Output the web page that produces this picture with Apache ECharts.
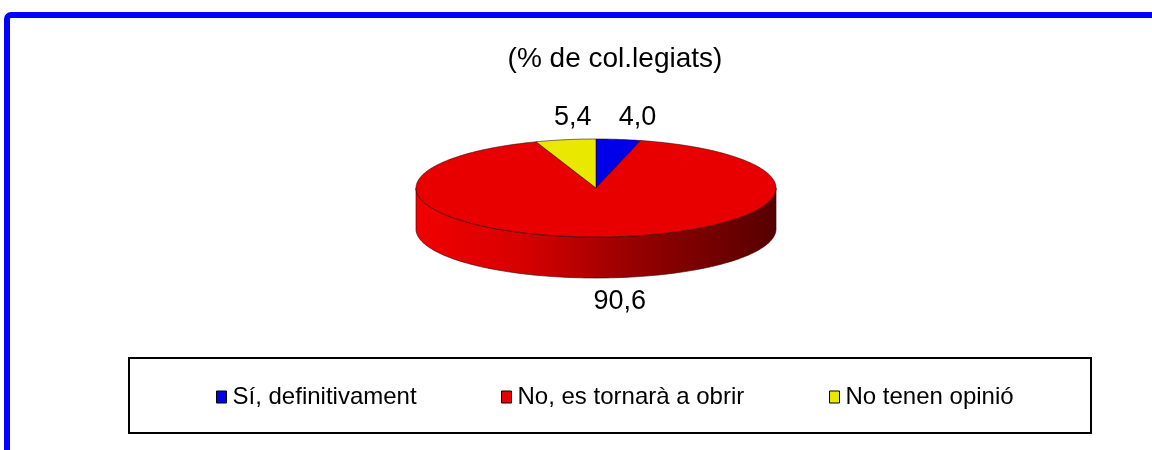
<!DOCTYPE html>
<html>
<head>
<meta charset="utf-8">
<script src="https://cdn.jsdelivr.net/npm/echarts@6/dist/echarts.min.js"></script>
<style>
  html, body { margin: 0; padding: 0; background: #fff; }
  #main { width: 1152px; height: 450px; }
</style>
</head>
<body>
<div id="main"></div>
<script>
// dades del gràfic
const categories = ['Sí, definitivament', 'No, es tornarà a obrir', 'No tenen opinió'];
const values = [4.0, 90.6, 5.4];
const valueLabels = ['4,0', '90,6', '5,4'];
const titleText = '(% de col.legiats)';

// estil
const colors = ['#0000e8', '#e80000', '#e8e800'];
const FONT = '"Liberation Sans", Arial, sans-serif';
const PIE = { cx: 596, cy: 188, rx: 180, ry: 49, depth: 41 };
const legendLeft = [216, 501, 829];

const chart = echarts.init(document.getElementById('main'), null, { renderer: 'canvas' });

const total = values.reduce((a, b) => a + b, 0);

function angleAt(v) {
  return -Math.PI / 2 + (v / total) * Math.PI * 2;
}

function ellPoint(a, dy) {
  return [PIE.cx + PIE.rx * Math.cos(a), PIE.cy + PIE.ry * Math.sin(a) + (dy || 0)];
}

function arcPoints(a0, a1, dy) {
  const pts = [];
  const steps = Math.max(4, Math.ceil(Math.abs(a1 - a0) / 0.02));
  for (let k = 0; k <= steps; k++) {
    pts.push(ellPoint(a0 + (a1 - a0) * k / steps, dy));
  }
  return pts;
}

// sector 3D aplanat: cara superior, costat frontal i etiqueta
function renderSlice(params, api) {
  const i = params.seriesIndex;
  let before = 0;
  for (let k = 0; k < i; k++) before += values[k];
  const a0 = angleAt(before);
  const a1 = angleAt(before + api.value(0));
  const children = [];

  // costat visible (part frontal, entre 0 i PI)
  const s = Math.max(a0, 0);
  const e = Math.min(a1, Math.PI);
  if (e > s) {
    const top = arcPoints(s, e, 0);
    const bottom = arcPoints(e, s, PIE.depth);
    children.push({
      type: 'polygon',
      z2: 1,
      shape: { points: top.concat(bottom) },
      style: {
        fill: new echarts.graphic.LinearGradient(PIE.cx - PIE.rx, 0, PIE.cx + PIE.rx, 0, [
          { offset: 0, color: '#f20000' },
          { offset: 0.3, color: '#d60000' },
          { offset: 0.6, color: '#980000' },
          { offset: 1, color: '#560000' }
        ], true),
        stroke: 'rgba(60,0,0,0.8)',
        lineWidth: 0.8
      }
    });
  }

  // cara superior
  children.push({
    type: 'polygon',
    z2: 5,
    shape: { points: [[PIE.cx, PIE.cy]].concat(arcPoints(a0, a1, 0)) },
    style: {
      fill: colors[i],
      stroke: 'rgba(40,0,0,0.7)',
      lineWidth: 0.8
    }
  });

  // etiqueta de valor
  const m = (a0 + a1) / 2;
  const p = ellPoint(m, 0);
  const lx = p[0] + 14 + 40 * Math.cos(m);
  const ly = Math.sin(m) < 0 ? p[1] - 22 : p[1] + PIE.depth + 24;
  children.push({
    type: 'text',
    z2: 10,
    style: {
      x: lx,
      y: ly,
      text: valueLabels[i],
      fill: '#000',
      font: '27px ' + FONT,
      align: 'center',
      verticalAlign: 'middle'
    }
  });

  return { type: 'group', children: children };
}

const option = {
  backgroundColor: '#fff',
  animation: false,
  title: {
    text: titleText,
    left: 610,
    top: 40,
    textAlign: 'center',
    textStyle: { fontFamily: FONT, fontSize: 28, fontWeight: 'normal', color: '#000' }
  },
  legend: categories.map((name, i) => ({
    data: [name],
    left: legendLeft[i],
    top: 385,
    padding: 0,
    icon: 'rect',
    itemWidth: 10,
    itemHeight: 12,
    itemGap: 0,
    selectedMode: false,
    itemStyle: { borderColor: '#000', borderWidth: 1 },
    textStyle: { fontFamily: FONT, fontSize: 24, color: '#000', padding: [0, 0, 0, 1] }
  })),
  graphic: [
    {
      // marc blau
      type: 'rect',
      shape: { x: 7, y: 15, width: 1400, height: 700, r: 4 },
      style: { fill: null, stroke: '#0000ff', lineWidth: 6 },
      silent: true
    },
    {
      // caixa de la llegenda
      type: 'rect',
      shape: { x: 129, y: 358, width: 962, height: 75 },
      style: { fill: null, stroke: '#000', lineWidth: 2 },
      silent: true
    }
  ],
  series: categories.map((name, i) => ({
    type: 'custom',
    name: name,
    coordinateSystem: 'none',
    silent: true,
    itemStyle: { color: colors[i] },
    data: [values[i]],
    renderItem: renderSlice
  }))
};

chart.setOption(option);
</script>
</body>
</html>
